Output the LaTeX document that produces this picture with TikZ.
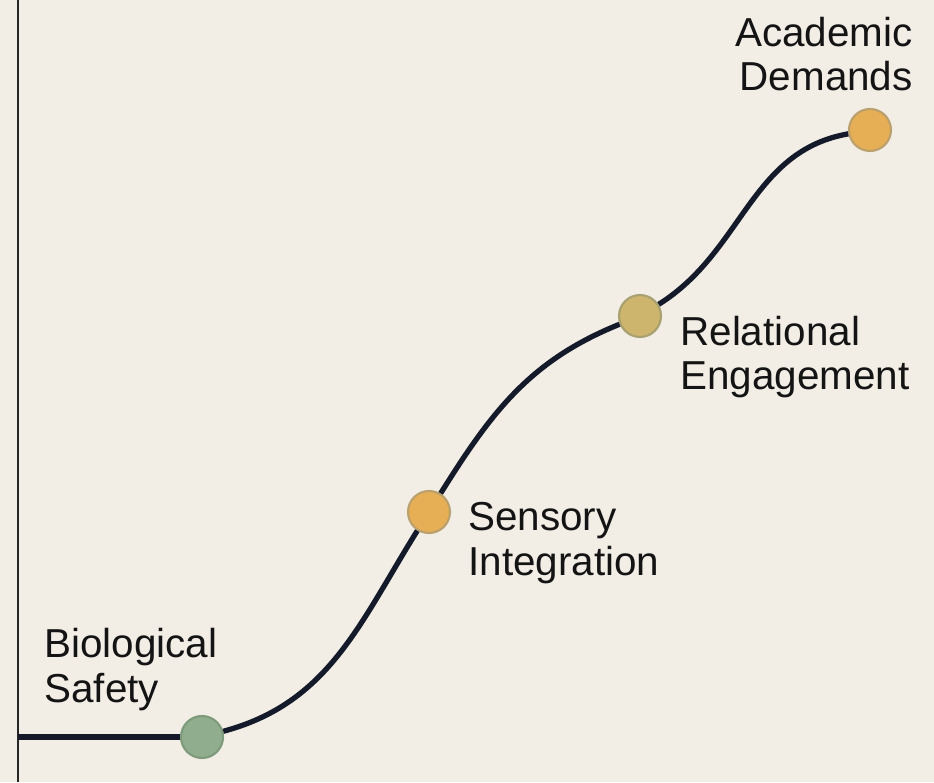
\documentclass[tikz,border=0pt]{standalone}
\usepackage{fontspec}
\setmainfont{Liberation Sans}
\definecolor{paper}{HTML}{F2EEE6}
\definecolor{ink}{HTML}{141A2A}
\definecolor{sage}{HTML}{90AE8D}
\definecolor{sageEdge}{HTML}{7D9A7A}
\definecolor{amber}{HTML}{E6AE55}
\definecolor{amberEdge}{HTML}{B9A06C}
\definecolor{olive}{HTML}{CDB56E}
\definecolor{oliveEdge}{HTML}{A8A06E}
\tikzset{
  stage/.style={circle, minimum size=0.84cm, inner sep=0pt, line width=1.2pt},
  label/.style={inner sep=0pt, align=left, text=black!92,
    font=\fontsize{23}{25.6}\selectfont},
  curve/.style={draw=ink, line width=3pt},
}
\begin{document}
\begin{tikzpicture}[x=0.02cm,y=0.02cm]
    \fill[paper] (0,0) rectangle (934,782);
    \useasboundingbox (0,0) rectangle (934,782);

    \coordinate (axisTop)  at (18,782);
    \coordinate (axisBot)  at (18,0);
    \coordinate (axisBase) at (18,45);

    \node[stage, fill=sage,  draw=sageEdge]  (safety)     at (202,45)  {};
    \node[stage, fill=amber, draw=amberEdge] (sensory)    at (429,270) {};
    \node[stage, fill=olive, draw=oliveEdge] (relational) at (640,466) {};
    \node[stage, fill=amber, draw=amberEdge] (academic)   at (870,652) {};

    % base anchor sits on the last line
    \node[label, anchor=base west] (safetyLbl)     at (44,80)   {Biological\\Safety};
    \node[label, anchor=base west] (sensoryLbl)    at (468,207) {Sensory\\Integration};
    \node[label, anchor=base west] (relationalLbl) at (680,392) {Relational\\Engagement};
    \node[label, anchor=base east, align=right] (academicLbl) at (913,691) {Academic\\Demands};

   \draw[black!85, line width=1pt] (axisTop) -- (axisBot);
   \path[curve] (axisBase) edge (safety);
   \path[curve] (safety) edge[out=15, in=238] (sensory);
   \path[curve] (sensory) edge[out=58, in=202] (relational);
   \path[curve] (relational) edge[out=32, in=190] (academic);
  \end{tikzpicture}
\end{document}
